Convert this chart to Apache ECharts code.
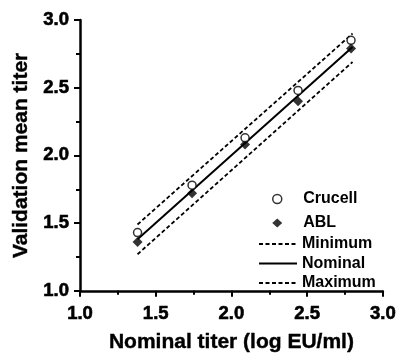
<!DOCTYPE html>
<html>
<head>
<meta charset="utf-8">
<script src="https://cdn.jsdelivr.net/npm/echarts@6/dist/echarts.min.js"></script>
<style>
  html, body { margin: 0; padding: 0; background: #fff; }
  #chart { width: 399px; height: 358px; }
</style>
</head>
<body>
<div id="chart"></div>
<script>
// nominal titers (log EU/ml)
const nominalX = [1.38, 1.74, 2.09, 2.44, 2.79];
const crucellY = [1.43, 1.78, 2.13, 2.48, 2.85];
const ablY = [1.36, 1.72, 2.08, 2.40, 2.79];

// acceptance lines
const lineX = [1.38, 2.8];
const minimumY = [1.27, 2.69];
const nominalY = [1.38, 2.8];
const maximumY = [1.49, 2.9];

const tickLabels = ['1.0', '1.5', '2.0', '2.5', '3.0'];

const pairs = (xs, ys) => xs.map((x, i) => [x, ys[i]]);

const font = 'Arial';

function axisOpts(name, nameGap, labelMargin) {
    return {
        type: 'value',
        min: 1,
        max: 3,
        interval: 0.5,
        name: name,
        nameGap: nameGap,
        nameLocation: 'middle',
        nameTextStyle: {
            fontFamily: font, fontWeight: 'bold', fontSize: 21, color: '#000',
            textBorderColor: '#000', textBorderWidth: 0.4,
        },
        axisLine: { show: true, lineStyle: { color: '#000', width: 2.5 } },
        axisTick: { show: true, inside: false, length: 6, lineStyle: { color: '#000', width: 2 } },
        minorTick: { show: true, splitNumber: 2, length: 4, lineStyle: { color: '#000', width: 2 } },
        splitLine: { show: false },
        axisLabel: {
            fontFamily: font, fontWeight: 'bold', fontSize: 18.5, color: '#000',
            textBorderColor: '#000', textBorderWidth: 0.6,
            margin: labelMargin,
            formatter: (v) => tickLabels[Math.round((v - 1) / 0.5)],
        },
    };
}

const chart = echarts.init(document.getElementById('chart'));

const legendText = { fontFamily: font, fontWeight: 'bold', fontSize: 16, color: '#000', lineHeight: 16 };

const option = {
    animation: false,
    backgroundColor: '#fff',
    grid: { left: 80, right: 16, top: 20, bottom: 64 },
    xAxis: axisOpts('Nominal titer (log EU/ml)', 41, 14),
    yAxis: axisOpts('Validation mean titer', 48, 11),
    legend: [
        {
            data: [
                { name: 'Crucell', icon: 'circle', itemStyle: { color: '#fff', borderColor: '#000', borderWidth: 1.5 } },
                { name: 'ABL', icon: 'diamond', itemStyle: { color: '#000', borderWidth: 0 } },
            ],
            orient: 'vertical',
            left: 272,
            top: 191,
            padding: 0,
            itemWidth: 10,
            itemHeight: 9,
            itemGap: 8,
            textStyle: { ...legendText, padding: [0, 0, 0, 16] },
        },
        {
            data: ['Minimum', 'Nominal', 'Maximum'],
            orient: 'vertical',
            left: 258,
            top: 236,
            padding: 0,
            itemWidth: 38,
            itemHeight: 12,
            itemGap: 3.5,
            itemStyle: { opacity: 0 },
            textStyle: legendText,
        },
    ],
    series: [
        {
            name: 'Minimum',
            type: 'line',
            data: pairs(lineX, minimumY),
            symbol: 'none',
            itemStyle: { color: '#000' },
            lineStyle: { color: '#000', width: 1.8, type: [4, 2.5] },
        },
        {
            name: 'Nominal',
            type: 'line',
            data: pairs(lineX, nominalY),
            symbol: 'none',
            itemStyle: { color: '#000' },
            lineStyle: { color: '#000', width: 2 },
        },
        {
            name: 'Maximum',
            type: 'line',
            data: pairs(lineX, maximumY),
            symbol: 'none',
            itemStyle: { color: '#000' },
            lineStyle: { color: '#000', width: 1.8, type: [4, 2.5] },
        },
        {
            name: 'ABL',
            type: 'scatter',
            data: pairs(nominalX, ablY),
            symbol: 'diamond',
            symbolSize: 10,
            itemStyle: { color: '#000' },
            z: 3,
        },
        {
            name: 'Crucell',
            type: 'scatter',
            data: pairs(nominalX, crucellY),
            symbol: 'circle',
            symbolSize: 8,
            itemStyle: { color: '#fff', borderColor: '#000', borderWidth: 1.5 },
            z: 4,
        },
    ],
};

chart.setOption(option);
</script>
</body>
</html>
